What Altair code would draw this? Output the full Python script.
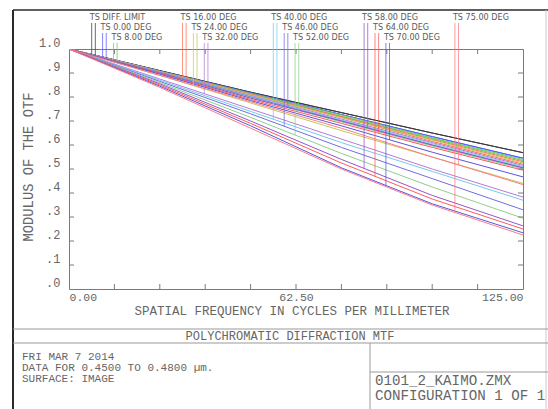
import altair as alt
import numpy as np
import pandas as pd

# ---------------- data ----------------
freq = [0.0, 25.0, 50.0, 75.0, 100.0, 125.0]

field_names = ["DIFF. LIMIT", "0.00 DEG", "8.00 DEG", "16.00 DEG", "24.00 DEG",
               "32.00 DEG", "40.00 DEG", "46.00 DEG", "52.00 DEG", "58.00 DEG",
               "64.00 DEG", "70.00 DEG", "75.00 DEG"]
field_colors = ["#3a3a3a", "#5c5cff", "#66cc66", "#ff7055", "#c4c85a",
                "#b47ad8", "#74c9ec", "#6e6ee6", "#8ed08e", "#9455c8",
                "#ff5a5a", "#5656dc", "#ff7a86"]

# tangential MTF per field at the frequencies above
mtf_tan = [
    [1.000, 0.910, 0.820, 0.735, 0.650, 0.568],
    [1.000, 0.908, 0.817, 0.727, 0.635, 0.545],
    [1.000, 0.907, 0.815, 0.725, 0.630, 0.540],
    [1.000, 0.905, 0.810, 0.715, 0.615, 0.520],
    [1.000, 0.890, 0.775, 0.660, 0.550, 0.440],
    [1.000, 0.875, 0.750, 0.625, 0.500, 0.383],
    [1.000, 0.870, 0.740, 0.610, 0.490, 0.370],
    [1.000, 0.865, 0.730, 0.590, 0.460, 0.330],
    [1.000, 0.860, 0.715, 0.565, 0.425, 0.295],
    [1.000, 0.855, 0.700, 0.540, 0.390, 0.263],
    [1.000, 0.850, 0.690, 0.525, 0.375, 0.250],
    [1.000, 0.845, 0.680, 0.505, 0.355, 0.234],
    [1.000, 0.840, 0.670, 0.500, 0.350, 0.225],
]
# sagittal MTF per field
mtf_sag = [
    [1.000, 0.910, 0.820, 0.735, 0.650, 0.568],
    [1.000, 0.908, 0.817, 0.727, 0.635, 0.545],
    [1.000, 0.907, 0.813, 0.720, 0.627, 0.535],
    [1.000, 0.906, 0.812, 0.718, 0.623, 0.530],
    [1.000, 0.905, 0.810, 0.714, 0.620, 0.525],
    [1.000, 0.904, 0.806, 0.708, 0.610, 0.515],
    [1.000, 0.903, 0.803, 0.704, 0.606, 0.510],
    [1.000, 0.902, 0.800, 0.700, 0.600, 0.505],
    [1.000, 0.900, 0.797, 0.696, 0.596, 0.500],
    [1.000, 0.900, 0.795, 0.700, 0.600, 0.505],
    [1.000, 0.898, 0.790, 0.690, 0.590, 0.495],
    [1.000, 0.895, 0.785, 0.680, 0.570, 0.467],
    [1.000, 0.890, 0.780, 0.670, 0.550, 0.435],
]

marker_freq_t = [6.25, 9.25, 12.25, 31.25, 34.25, 37.25, 56.25, 59.25, 62.25,
                 81.25, 84.25, 87.25, 106.25]
marker_freq_s = [7.25, 10.25, 13.25, 32.25, 35.25, 38.25, 57.25, 60.25, 63.25,
                 82.25, 85.25, 88.25, 107.25]
marker_row = [0, 1, 2, 0, 1, 2, 0, 1, 2, 0, 1, 2, 0]

y_tick_values = [0.0, 0.1, 0.2, 0.3, 0.4, 0.5, 0.6, 0.7, 0.8, 0.9, 1.0]
x_tick_values = [12.5, 25.0, 37.5, 50.0, 62.5, 75.0, 87.5, 100.0, 112.5]
x_label_values = [0.0, 62.5, 125.0]

# ---------------- tables ----------------
curve_rows = []
marker_rows = []
label_rows = []
for i, name in enumerate(field_names):
    for kind, arr, fm in (("T", mtf_tan[i], marker_freq_t[i]), ("S", mtf_sag[i], marker_freq_s[i])):
        for f, m in zip(freq, arr):
            curve_rows.append({"f": f, "mtf": m, "fld": name, "series": name + " " + kind})
        marker_rows.append({"f": fm, "mtf": float(np.interp(fm, freq, arr)),
                            "fld": name, "row": marker_row[i]})
    label_rows.append({"f": marker_freq_t[i], "label": "TS " + name, "row": marker_row[i]})

curves_df = pd.DataFrame(curve_rows)
markers_df = pd.DataFrame(marker_rows)
labels_df = pd.DataFrame(label_rows)
xt_df = pd.DataFrame({"f": x_tick_values})
yt_df = pd.DataFrame({"mtf": y_tick_values[1:-1]})
one = pd.DataFrame({"k": [0]})

# ---------------- styles ----------------
W, H = 454, 240
L, T = 69, 49
MONO = "Liberation Mono, DejaVu Sans Mono, monospace"
NARROW = "Liberation Sans Narrow, DejaVu Sans Condensed, Arial Narrow, sans-serif"
TXT = "#666666"
FRAME = "#7a7a7a"

xaxis = alt.Axis(values=x_label_values, format=".2f", labelFlush=True, domain=False,
                 ticks=False, grid=False, title=None, labelFont=MONO, labelFontSize=11.5,
                 labelColor=TXT, labelPadding=2)
yaxis = alt.Axis(values=y_tick_values,
                 labelExpr="datum.value >= 1 ? '1.0' : '.' + round(datum.value * 10)",
                 domain=False, ticks=False, grid=False, title=None, labelFont=MONO,
                 labelFontSize=12, labelColor=TXT, labelPadding=9, labelBaseline="bottom")
X = alt.X("f:Q", scale=alt.Scale(domain=[0, 125], nice=False, zero=False), axis=xaxis)
Y = alt.Y("mtf:Q", scale=alt.Scale(domain=[0, 1], nice=False), axis=yaxis)
C = alt.Color("fld:N", scale=alt.Scale(domain=field_names, range=field_colors), legend=None)

layers = []

# curves
layers.append(alt.Chart(curves_df).mark_line(strokeWidth=1, clip=True).encode(
    x=X, y=Y, color=C, detail="series:N"))

# inner ticks
layers.append(alt.Chart(xt_df).mark_rule(color=FRAME, strokeWidth=1).encode(
    x=X, y=alt.value(H), y2=alt.value(H - 5)))
layers.append(alt.Chart(xt_df).mark_rule(color=FRAME, strokeWidth=1).encode(
    x=X, y=alt.value(0), y2=alt.value(5)))
layers.append(alt.Chart(yt_df).mark_rule(color=FRAME, strokeWidth=1).encode(
    y=Y, x=alt.value(0), x2=alt.value(5)))
layers.append(alt.Chart(yt_df).mark_rule(color=FRAME, strokeWidth=1).encode(
    y=Y, x=alt.value(W), x2=alt.value(W - 5)))

# field markers
row_text_y = [17, 27, 37]
row_line_top = [23, 33, 43]
for r in range(3):
    layers.append(alt.Chart(markers_df).transform_filter(alt.datum.row == r)
                  .mark_rule(strokeWidth=1, opacity=0.75).encode(
                      x=X, y=Y, y2=alt.value(row_line_top[r] - T), color=C))
    layers.append(alt.Chart(labels_df).transform_filter(alt.datum.row == r)
                  .mark_text(align="left", baseline="middle", dx=-2, font=NARROW,
                             fontSize=9, color="#5a5a5a").encode(
                      x=X, y=alt.value(row_text_y[r] - T), text="label:N"))


def hline(y, x1, x2, color, sw=1.0):
    return alt.Chart(one).mark_rule(color=color, strokeWidth=sw).encode(
        x=alt.value(x1 - L), x2=alt.value(x2 - L), y=alt.value(y - T))


def vline(x, y1, y2, color, sw=1.0):
    return alt.Chart(one).mark_rule(color=color, strokeWidth=sw).encode(
        x=alt.value(x - L), y=alt.value(y1 - T), y2=alt.value(y2 - T))


def label(text, x, y, size, align="left", angle=0, font=MONO, color=TXT):
    return alt.Chart(one).mark_text(text=text, align=align, baseline="middle",
                                    font=font, fontSize=size, color=color,
                                    angle=angle).encode(
        x=alt.value(x - L), y=alt.value(y - T))


DIV = 370
# page frame and bottom panel
layers += [
    hline(10, 13, 548, "#2a2a2a", 1.5),
    vline(13, 10, 409, "#2a2a2a", 2.0),
    vline(546, 10, 409, "#cccccc", 1.0),
    hline(329, 13, 548, "#999999"),
    hline(343, 13, 548, "#999999"),
    vline(DIV, 343, 409, "#999999"),
    hline(372, DIV, 548, "#999999"),
]

# texts
layers += [
    label("SPATIAL FREQUENCY IN CYCLES PER MILLIMETER", 292, 311, 12.5, align="center"),
    label("MODULUS OF THE OTF", 29, 167, 13.8, align="center", angle=270),
    label("POLYCHROMATIC DIFFRACTION MTF", 290, 336, 12, align="center"),
    label("FRI MAR 7 2014", 22, 357, 11),
    label("DATA FOR 0.4500 TO 0.4800 µm.", 22, 368, 11),
    label("SURFACE: IMAGE", 22, 379, 11),
    label("0101_2_KAIMO.ZMX", DIV + 5, 381, 14.2),
    label("CONFIGURATION 1 OF 1", DIV + 5, 396, 14.2),
]

chart = alt.layer(*layers).properties(
    width=W, height=H,
    padding={"left": L, "top": T, "right": 548 - L - W, "bottom": 409 - T - H},
    autosize=alt.AutoSizeParams(type="none"),
    background="white",
).configure_view(stroke=FRAME, strokeWidth=1)

chart.save("out.html", embed_options={"renderer": "svg", "actions": False})
